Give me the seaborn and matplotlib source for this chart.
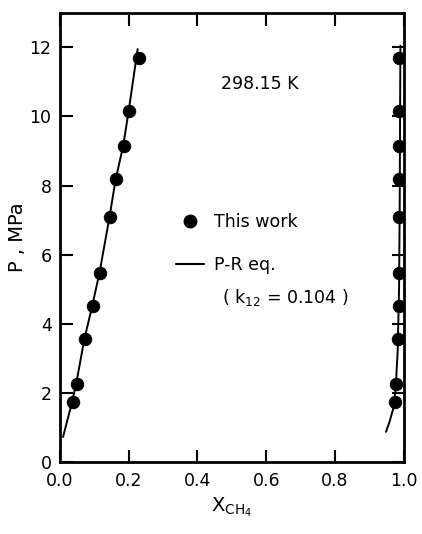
import numpy as np
import pandas as pd
import matplotlib
matplotlib.use("Agg")
import matplotlib.pyplot as plt
import seaborn as sns
from matplotlib.lines import Line2D

# Experimental data (This work)
pressure = [1.72, 2.25, 3.55, 4.52, 5.47, 7.08, 8.18, 9.15, 10.17, 11.69]
x_liquid = [0.037, 0.049, 0.072, 0.095, 0.116, 0.145, 0.163, 0.186, 0.200, 0.229]
y_vapor = [0.974, 0.976, 0.983, 0.985, 0.986, 0.987, 0.987, 0.987, 0.987, 0.987]

# P-R equation curves
pr_liq_x = [0.009, 0.035, 0.047, 0.071, 0.094, 0.115, 0.144, 0.162, 0.184, 0.200, 0.226]
pr_liq_p = [0.72, 1.72, 2.25, 3.55, 4.52, 5.47, 7.08, 8.18, 9.15, 10.17, 11.95]
pr_vap_x = [0.948, 0.958, 0.968, 0.976, 0.982, 0.986, 0.988, 0.989, 0.990]
pr_vap_p = [0.87, 1.15, 1.50, 2.10, 3.20, 5.00, 7.50, 10.0, 12.05]

x_ticks = [0.0, 0.2, 0.4, 0.6, 0.8, 1.0]
x_ticklabels = ["0.0", "0.2", "0.4", "0.6", "0.8", "1.0"]
y_ticks = [0, 2, 4, 6, 8, 10, 12]

sns.set_style("ticks", {"text.color": "black", "xtick.color": "black",
                        "ytick.color": "black", "axes.labelcolor": "black",
                        "axes.edgecolor": "black"})
plt.rcParams['font.family'] = ['DejaVu Sans']

fig = plt.figure(figsize=(4.22, 5.34), dpi=100)
ax = fig.add_axes([0.142, 0.135, 0.815, 0.841])

sns.lineplot(x=pr_liq_x, y=pr_liq_p, sort=False, color="black", lw=1.4, ax=ax)
sns.lineplot(x=pr_vap_x, y=pr_vap_p, sort=False, color="black", lw=1.4, ax=ax)
sns.scatterplot(x=x_liquid, y=pressure, color="black", s=80, edgecolor="black", ax=ax, zorder=3)
sns.scatterplot(x=y_vapor, y=pressure, color="black", s=80, edgecolor="black", ax=ax, zorder=3)

ax.set_xlim(0, 1.0)
ax.set_ylim(0, 13)
ax.set_xticks(x_ticks)
ax.set_xticklabels(x_ticklabels)
ax.set_yticks(y_ticks)
ax.tick_params(direction="in", length=9, width=1.5, labelsize=12.5, top=True, right=True)
ax.tick_params(axis="x", pad=7)
ax.tick_params(axis="y", pad=6)
for s in ax.spines.values():
    s.set_linewidth(2)
    s.set_color("black")

ax.set_xlabel("X$_{\\mathrm{CH_4}}$", fontsize=14, labelpad=4)
ax.set_ylabel("P , MPa", fontsize=14, labelpad=2)

ax.text(0.58, 10.95, "298.15 K", fontsize=12.5, ha="center", va="center")

handles = [Line2D([], [], marker="o", ls="none", color="black", markersize=9),
           Line2D([], [], color="black", lw=1.5)]
labels = ["This work", "P-R eq."]
ax.legend(handles, labels, frameon=False, fontsize=12.5, loc="upper left",
          bbox_to_anchor=(0.318, 0.57), handlelength=1.6, labelspacing=1.45,
          handletextpad=0.6, borderaxespad=0)
ax.text(0.47, 4.77, "( k$_{12}$ = 0.104 )", fontsize=12.5, ha="left", va="center")

fig.savefig("out.png", dpi=100)
